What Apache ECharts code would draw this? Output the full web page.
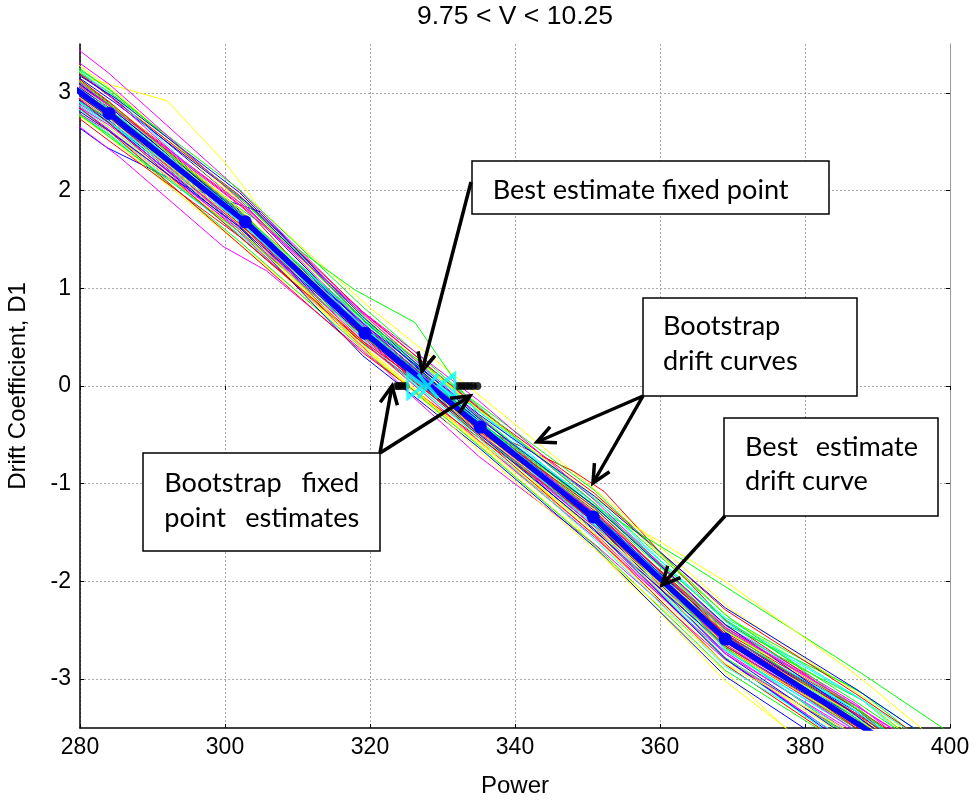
<!DOCTYPE html>
<html><head><meta charset="utf-8">
<script src="https://cdn.jsdelivr.net/npm/echarts@6/dist/echarts.min.js"></script>
<style>html,body{margin:0;padding:0;background:#fff}#c{width:976px;height:803px}</style>
</head><body><div id="c"></div>
<script>
const titleText = '9.75 < V < 10.25';
const xName = 'Power';
const yName = 'Drift Coefficient, D1';
const xTicks = [280, 300, 320, 340, 360, 380, 400];
const yTicks = [-3, -2, -1, 0, 1, 2, 3];

// best estimate drift curve
const bestX = [262, 284.0, 302.8, 319.3, 335.2, 350.8, 369.0, 405];
const bestY = [3.98, 2.79, 1.68, 0.54, -0.42, -1.34, -2.59, -4.30];

// bootstrap drift curves
const bootX = [
 [264,284,302,319,335,351,369,387,405],
 [265,285,303,320,336,352,370,388,406],
 [262,283.7,295,305,319,335,351,369,387,405],
 [263,284,301,318,334,350,368,386,404],
 [264,285.5,299.7,305.7,320,336,352,370,388],
 [262,292,300.2,305.2,320,336,352,370,388,406],
 [265,284,303,319,335,351,369,387,405],
 [263,284,302,320,336,351,369,387,405],
 [264,285,302,319,334,351,369,387,405],
 [262,283,302,318,335,351,368,386,404],
 [264,284,302,319,335,351,369,387,405],
 [264,284,302,319,335,351,369,387],
 [263,284,301,319,334,348,352.3,360,369,387,405],
 [265,284,302,320,335,351,369,388,406],
 [264,285,303,319,335,351,370,387,405],
 [263,284,302,319,336,352,369,387,405],
 [262,284,303,320,335,351,369,387,405],
 [265,285,302,319,335,352,370,388,406],
 [264,283,302,318,335,351,368,387,405],
 [264,284,302,318,326.2,335,351,369,387,406],
 [263,284,302,319,335,350,369,387,405],
 [265,285,302,320,336,351,370,388,405],
 [264,284,302,319,335,351,369,387,405],
 [263,284,302,319,335,351,369,387,405],
 [264,285,302,319,335,351,369,386,404],
 [262,284,302,320,336,352,363.4,370,388,406],
 [265,284,302,319,335,351,369,387,405],
 [264,284,303,319,335,351,369,387,405],
 [263,283,302,319,335,351,369,387,405],
 [264,284,302,320,336,354.2,377.9,396],
 [264,284,302,319,335,351,369,387,405],
 [263,285,302,319,334,351,369,387,405],
 [265,284,302,319,335,351,369,387,405],
 [264,284,302,319,335,351,369,387,405],
 [262,284,301,319,325,335,351,369,387,405],
 [265,285,302,319,335,351,357,369,387,405],
 [263,284,302,319,335,351,369,387,405],
 [264,284,302,319,335,351,369,387,405],
 [264,285,303,320,335,351,369,387,405],
 [265,284,302,319,335,351,369,387,405],
 [263,284,302,319,335,351,369,387,405],
 [264,284,302,319,335,351,369,387],
 [264,284,302,319,335,351,369,387,405],
 [263,284,302,319,335,351,369,387,405],
 [265,285,303,319,335,351,369,387,405],
 [264,284,302,319,335,351,369,387,405],
 [262,283,301,319,335,351,369,387,405],
 [264,285,302,319,335,351,369,387,405],
 [265,284,302,319,335,351,369,387,405],
 [263,284,302,319,335,351,369,387,405],
 [264,284,303,319,335,351,369,387,405],
 [264,285,302,319,335,351,369,387,405],
 [262,284,302,319,335,351,369,387,405],
 [265,284,302,319,335,351,369,387,405],
 [264,284,302,319,335,351,369,387,405],
 [263,284,302,319,335,351,369,387,405],
 [264,284,302,319,335,351,369,387,405],
 [264,285,303,319,335,351,369,387,405],
 [265,284,302,319,335,351,369,387,405],
 [264,284,302,319,335,351,369,387,405],
 [263,284,302,319,335,351,369,387,405],
 [264,284,302,319,335,351,369,387,405],
 [264,285,302,319,335,351,369,387,405],
 [263,284,302,319,335,351,369,387,405],
 [264,284,302,319,335,351,369,387,405],
 [265,285,302,319,335,351,369,387,405],
 [264,284,302,319,335,351,369,387,405],
 [264,284,302,319,335,351,369,387,405],
 [263,284,302,319,335,351,369,387,405],
 [264,284,302,319,335,351,369,387,405],
 [264,284,302,319,335,351,369,387,405],
 [265,284,302,319,335,351,369,387,405]
];
const bootY = [
 [3.80,2.83,1.70,0.60,-0.36,-1.28,-2.52,-3.30,-4.40],
 [4.05,2.98,1.86,0.66,-0.30,-1.22,-2.40,-3.15,-4.20],
 [3.60,2.44,2.03,1.78,0.68,-0.38,-1.33,-2.62,-3.45,-4.50],
 [3.70,2.62,1.60,0.50,-0.45,-1.40,-2.66,-3.48,-4.55],
 [3.55,2.34,1.43,1.18,0.30,-0.62,-1.58,-2.85,-3.75],
 [3.55,2.92,2.27,1.78,0.80,-0.15,-1.12,-2.30,-3.18,-4.25],
 [3.95,2.90,1.80,0.52,-0.47,-1.42,-2.68,-3.50,-4.55],
 [3.75,2.70,1.66,0.48,-0.50,-1.45,-2.78,-3.62,-4.70],
 [3.90,2.82,1.75,0.58,-0.38,-1.33,-2.55,-3.36,-4.42],
 [3.72,2.70,1.65,0.48,-0.40,-1.30,-2.50,-3.30,-4.35],
 [4.35,3.20,2.00,0.75,-0.22,-1.20,-2.45,-3.25,-4.30],
 [3.75,2.65,1.55,0.40,-0.60,-1.62,-3.02,-4.05],
 [3.85,2.76,1.72,0.60,-0.38,-0.87,-1.08,-1.70,-2.40,-3.30,-4.40],
 [3.98,2.88,1.78,0.58,-0.40,-1.30,-2.48,-3.22,-4.25],
 [4.05,2.92,1.82,0.62,-0.35,-1.32,-2.58,-3.40,-4.45],
 [3.65,2.58,1.55,0.44,-0.52,-1.48,-2.70,-3.52,-4.60],
 [3.62,2.60,1.52,0.46,-0.48,-1.44,-2.72,-3.58,-4.62],
 [4.00,2.95,1.88,0.70,-0.25,-1.18,-2.40,-3.22,-4.28],
 [3.82,2.80,1.64,0.50,-0.44,-1.36,-2.58,-3.35,-4.40],
 [3.92,2.86,1.82,0.98,0.65,-0.30,-1.26,-2.44,-3.10,-4.05],
 [3.78,2.72,1.62,0.52,-0.46,-1.42,-2.66,-3.46,-4.52],
 [3.90,2.84,1.74,0.64,-0.32,-1.24,-2.45,-3.22,-4.30],
 [3.88,2.78,1.68,0.54,-0.43,-1.38,-2.64,-3.44,-4.50],
 [3.70,2.60,1.58,0.45,-0.55,-1.52,-2.80,-3.65,-4.70],
 [3.86,2.84,1.72,0.57,-0.40,-1.34,-2.60,-3.40,-4.45],
 [3.66,2.74,1.70,0.55,-0.38,-1.28,-1.79,-2.10,-2.95,-3.85],
 [3.96,2.86,1.77,0.60,-0.37,-1.31,-2.54,-3.33,-4.38],
 [3.80,2.74,1.66,0.55,-0.42,-1.36,-2.56,-3.30,-4.30],
 [3.74,2.68,1.60,0.49,-0.47,-1.40,-2.60,-3.36,-4.40],
 [3.84,2.80,1.76,0.60,-0.40,-1.91,-3.54,-4.60],
 [3.92,2.84,1.74,0.58,-0.39,-1.33,-2.57,-3.37,-4.43],
 [3.86,2.78,1.70,0.55,-0.44,-1.39,-2.66,-3.50,-4.58],
 [4.02,2.90,1.80,0.60,-0.38,-1.34,-2.60,-3.40,-4.46],
 [3.84,2.76,1.70,0.56,-0.41,-1.35,-2.59,-3.38,-4.45],
 [3.70,2.70,1.64,0.40,-0.05,-0.72,-1.62,-2.80,-3.60,-4.65],
 [4.10,3.00,1.90,0.72,-0.24,-1.15,-1.46,-2.00,-2.95,-4.05],
 [3.80,2.75,1.66,0.53,-0.44,-1.40,-2.66,-3.48,-4.52],
 [3.90,2.82,1.76,0.60,-0.36,-1.30,-2.50,-3.28,-4.32],
 [3.84,2.80,1.72,0.58,-0.40,-1.34,-2.62,-3.44,-4.50],
 [3.94,2.84,1.76,0.59,-0.38,-1.32,-2.54,-3.32,-4.36],
 [3.78,2.74,1.64,0.54,-0.43,-1.37,-2.62,-3.42,-4.48],
 [3.60,2.55,1.45,0.42,-0.58,-1.55,-2.85,-3.75],
 [4.07,2.97,1.95,0.76,-0.23,-1.10,-2.29,-3.15,-4.05],
 [3.62,2.57,1.48,0.38,-0.61,-1.63,-2.91,-3.75,-4.65],
 [3.92,2.89,1.88,0.68,-0.36,-1.40,-2.74,-3.65,-4.60],
 [3.72,2.69,1.68,0.56,-0.33,-1.20,-2.37,-3.17,-4.05],
 [4.17,3.04,1.85,0.61,-0.43,-1.45,-2.79,-3.70,-4.63],
 [3.97,2.84,1.73,0.46,-0.56,-1.47,-2.64,-3.40,-4.25],
 [3.57,2.51,1.53,0.44,-0.46,-1.30,-2.47,-3.30,-4.17],
 [4.02,3.01,2.01,0.81,-0.21,-1.20,-2.49,-3.40,-4.35],
 [3.82,2.69,1.55,0.31,-0.63,-1.65,-2.97,-3.85,-4.75],
 [4.12,2.94,1.78,0.66,-0.26,-1.15,-2.41,-3.33,-4.25],
 [3.67,2.67,1.65,0.46,-0.56,-1.55,-2.74,-3.55,-4.40],
 [3.95,2.91,1.81,0.58,-0.47,-1.37,-2.51,-3.27,-4.10],
 [3.77,2.61,1.45,0.34,-0.53,-1.37,-2.54,-3.35,-4.23],
 [4.05,3.04,1.93,0.68,-0.31,-1.30,-2.67,-3.63,-4.57],
 [3.87,2.74,1.75,0.64,-0.29,-1.13,-2.27,-3.10,-4.00],
 [3.59,2.64,1.71,0.61,-0.41,-1.43,-2.79,-3.75,-4.70],
 [3.99,2.87,1.88,0.74,-0.31,-1.33,-2.64,-3.53,-4.45],
 [3.79,2.74,1.61,0.38,-0.57,-1.45,-2.59,-3.37,-4.23],
 [4.09,2.91,1.78,0.51,-0.51,-1.53,-2.85,-3.75,-4.67],
 [3.69,2.55,1.58,0.51,-0.36,-1.23,-2.39,-3.23,-4.13],
 [3.92,2.94,1.98,0.71,-0.33,-1.23,-2.44,-3.37,-4.33],
 [3.75,2.71,1.73,0.48,-0.53,-1.57,-2.87,-3.67,-4.50],
 [4.15,3.09,1.91,0.64,-0.39,-1.30,-2.49,-3.27,-4.13],
 [3.82,2.81,1.81,0.58,-0.49,-1.50,-2.69,-3.47,-4.30],
 [3.89,2.69,1.53,0.46,-0.39,-1.25,-2.54,-3.50,-4.47],
 [4.02,2.89,1.78,0.68,-0.19,-1.07,-2.34,-3.30,-4.25],
 [3.65,2.61,1.63,0.54,-0.49,-1.47,-2.79,-3.73,-4.67],
 [3.97,2.81,1.68,0.54,-0.36,-1.33,-2.69,-3.60,-4.53],
 [3.85,2.87,1.85,0.76,-0.15,-1.17,-2.47,-3.27,-4.10],
 [3.87,2.77,1.65,0.41,-0.66,-1.67,-2.84,-3.57,-4.40]
];
const bootColors = ['#ff0000', '#00ff00', '#0000ff', '#00ffff', '#ff00ff', '#ffff00'];

// bootstrap fixed point estimates (D1 = 0), as visible
const bootFixed = [323.7, 324.0, 324.4, 324.9, 332.2, 332.7, 333.2, 333.7, 334.2, 334.8];
const fixedBest = 328.0;
const fixedLow = 326.3;
const fixedHigh = 330.6;

const chart = echarts.init(document.getElementById('c'), null, {renderer: 'canvas'});

const axisFont = 'Liberation Sans';
const tickSize = 23;
const labelSize = 24;
const gridLine = {show: true, lineStyle: {color: '#a8a8a8', type: [2, 2], width: 1}};

const series = [];
bootX.forEach((xs, i) => {
  series.push({
    type: 'line', data: xs.map((x, j) => [x, bootY[i][j]]), symbol: 'none',
    lineStyle: {width: 1, color: bootColors[i % bootColors.length]},
    z: 2, silent: true, animation: false
  });
});
series.push({
  type: 'line', data: bestX.map((x, j) => [x, bestY[j]]), symbol: 'circle', symbolSize: 13,
  lineStyle: {width: 5.5, color: '#0000ff'}, itemStyle: {color: '#0000ff'}, z: 3, animation: false
});
series.push({
  type: 'scatter', data: bootFixed.map(x => [x, 0]), symbol: 'circle', symbolSize: 8,
  itemStyle: {color: '#000000'}, z: 4, animation: false
});
const cyanStyle = {color: 'rgba(0,0,0,0)', borderColor: '#00ffff', borderWidth: 3.5};
series.push({
  type: 'scatter', data: [[fixedLow, 0]], symbol: 'path://M0,0L10,6L0,12Z', symbolSize: [16, 24],
  itemStyle: cyanStyle, z: 5, animation: false
});
series.push({
  type: 'scatter', data: [[fixedHigh, 0]], symbol: 'path://M10,0L0,6L10,12Z', symbolSize: [16, 24],
  itemStyle: cyanStyle, z: 5, animation: false
});
series.push({
  type: 'scatter', data: [[fixedBest, 0]], symbol: 'path://M0,0L10,12M10,0L0,12', symbolSize: [20, 24],
  itemStyle: cyanStyle, z: 5, animation: false
});

// annotation font fit
const annFamily = 'Lato';
const cv = document.createElement('canvas').getContext('2d');
cv.font = '100px ' + annFamily;
const wRef = cv.measureText('Best estimate fixed point').width;
const annSize = wRef > 0 ? 100 * 296 / wRef : 26;
const mid = annSize * 0.32;

function txt(text, x, baseline, align) {
  return {type: 'text', x: x, y: baseline - mid, z: 100,
    style: {text: text, fontSize: annSize, fontFamily: annFamily, fill: '#000',
      align: align || 'left', verticalAlign: 'middle'}};
}
function box(x, y, w, h) {
  return {type: 'rect', z: 99, shape: {x: x, y: y, width: w, height: h},
    style: {fill: '#ffffff', stroke: '#000', lineWidth: 1.5}};
}
function arrow(x1, y1, x2, y2) {
  const ang = Math.atan2(y1 - y2, x1 - x2), L = 20, a = 0.45;
  const p1 = [x2 + L * Math.cos(ang + a), y2 + L * Math.sin(ang + a)];
  const p2 = [x2 + L * Math.cos(ang - a), y2 + L * Math.sin(ang - a)];
  return [
    {type: 'line', z: 101, shape: {x1: x1, y1: y1, x2: x2, y2: y2}, style: {stroke: '#000', lineWidth: 3.5}},
    {type: 'polyline', z: 101, shape: {points: [p1, [x2, y2], p2]}, style: {stroke: '#000', lineWidth: 3.5, fill: null, lineJoin: 'miter'}}
  ];
}

const graphics = [
  {type: 'text', x: 515, y: 17, z: 100, style: {text: titleText, fontSize: 26.5, fontFamily: axisFont, fill: '#000', align: 'center', verticalAlign: 'middle'}},
  box(472, 161, 357, 53), txt('Best estimate fixed point', 492.7, 199.3),
  box(643, 298, 214, 98), txt('Bootstrap', 663, 335), txt('drift curves', 663, 370),
  box(724, 418, 214, 98), txt('Best', 745, 456), txt('estimate', 918, 456, 'right'), txt('drift curve', 745, 490),
  box(143, 453, 237, 98), txt('Bootstrap', 164.3, 491.7), txt('fixed', 359.3, 491.7, 'right'),
  txt('point', 164.3, 526.7), txt('estimates', 359.3, 526.7, 'right'),
  ...arrow(471, 182, 422, 371),
  ...arrow(643, 396, 537, 442),
  ...arrow(643, 396, 593, 483),
  ...arrow(725, 516, 662, 585),
  ...arrow(380, 453, 392, 386),
  ...arrow(380, 453, 470, 396)
];

const option = {
  animation: false,
  backgroundColor: '#ffffff',
  grid: {left: 80, right: 26, top: 44, bottom: 75, containLabel: false, outerBoundsMode: 'none'},
  xAxis: [{
    type: 'value', min: 280, max: 400, interval: 20, position: 'bottom',
    name: xName, nameLocation: 'middle', nameGap: 46,
    nameTextStyle: {fontSize: labelSize, fontFamily: axisFont, color: '#000'},
    axisLine: {show: true, onZero: false, lineStyle: {color: '#000', width: 1.5}},
    axisTick: {show: true, inside: true, length: 4, lineStyle: {color: '#000'}},
    axisLabel: {fontSize: tickSize, fontFamily: axisFont, color: '#000', margin: 8},
    splitLine: gridLine
  }, {
    type: 'value', min: 280, max: 400, interval: 20, position: 'top',
    axisLine: {show: false},
    axisTick: {show: true, inside: true, length: 4, lineStyle: {color: '#000'}},
    axisLabel: {show: false}, splitLine: {show: false}
  }],
  yAxis: [{
    type: 'value', min: -3.5, max: 3.5, position: 'left',
    name: yName, nameLocation: 'middle', nameGap: 50,
    nameTextStyle: {fontSize: labelSize, fontFamily: axisFont, color: '#000'},
    axisLine: {show: true, onZero: false, lineStyle: {color: '#000', width: 1.5}},
    axisTick: {show: true, inside: true, length: 4, customValues: yTicks, lineStyle: {color: '#000'}},
    axisLabel: {fontSize: tickSize, fontFamily: axisFont, color: '#000', margin: 9, customValues: yTicks},
    splitLine: gridLine
  }, {
    type: 'value', min: -3.5, max: 3.5, position: 'right',
    axisLine: {show: true, onZero: false, lineStyle: {color: '#999', width: 1}},
    axisTick: {show: true, inside: true, length: 4, customValues: yTicks, lineStyle: {color: '#000'}},
    axisLabel: {show: false}, splitLine: {show: false}
  }],
  series: series,
  graphic: graphics
};
chart.setOption(option);
</script>
</body></html>
